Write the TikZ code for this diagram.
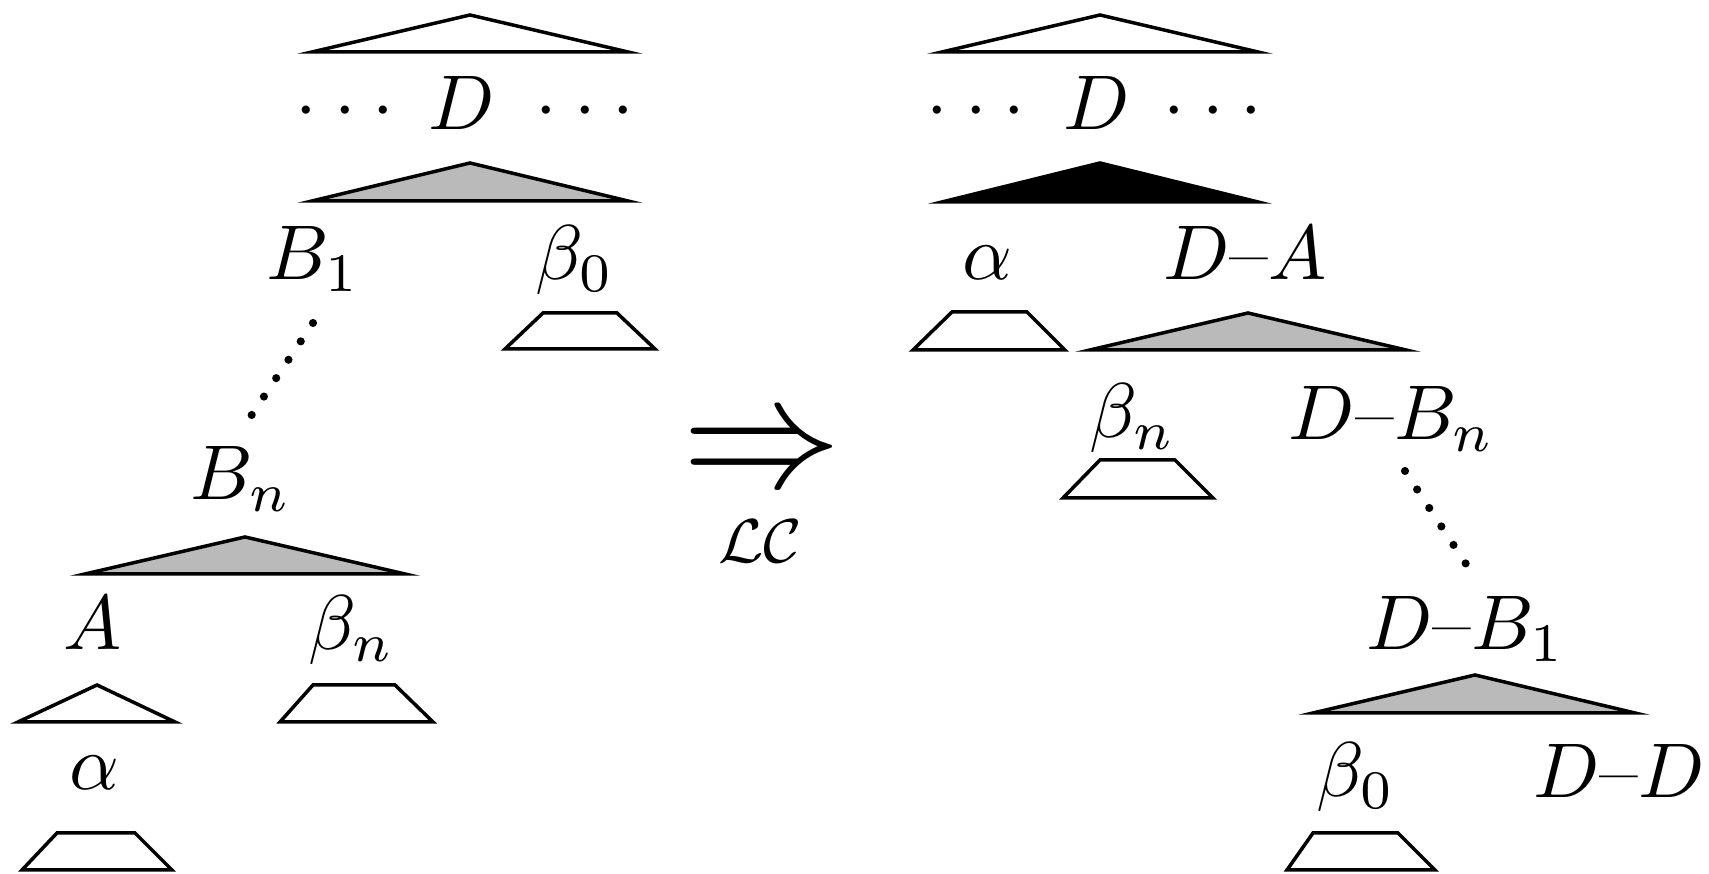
\documentclass[tikz,border=0pt]{standalone}
\usetikzlibrary{calc}
\begin{document}
\begin{tikzpicture}[x=0.1289pt,y=-0.1289pt,
  tri/.style={draw=black, line width=0.45pt, fill=white},
  gtri/.style={tri, fill=black!27},
  btri/.style={tri, fill=black},
  trap/.style={tri},
  lbl/.style={inner sep=0pt, anchor=base},
  dotline/.style={line width=1.05pt, line cap=round, dash pattern=on 0pt off 2.85pt}]
\useasboundingbox (0,0) rectangle (1709,874);

% ---------- left tree ----------
\draw[tri]  (312,52) -- (470,15) -- (628,52) -- cycle;
\node[lbl] (ldA) at (345,130) {${\cdot}\:{\cdot}\:{\cdot}$};
\node[lbl] (DA)  at (462,130) {$D$};
\node[lbl] (rdA) at (585,130) {${\cdot}\:{\cdot}\:{\cdot}$};
\draw[gtri] (312,201) -- (470,163) -- (628,201) -- cycle;

\node[lbl] (B1)  at (313,280) {$B_1$};
\node[lbl] (b0L) at (575,280) {$\beta_0$};
\draw[trap] (505,349) -- (543,313) -- (617,313) -- (655,349) -- cycle;

\coordinate (b1dot) at (313,323);
\coordinate (bndot) at (251,416);
\draw[dotline] (b1dot) -- (bndot);

\node[lbl] (Bn)  at (241,500) {$B_n$};
\draw[gtri] (85,574) -- (245,537) -- (405,574) -- cycle;

\node[lbl] (AL)  at (93,650) {$A$};
\node[lbl] (bnL) at (352,650) {$\beta_n$};
\draw[tri]  (18,722) -- (97,685) -- (175,722) -- cycle;
\draw[trap] (280,722) -- (313,685) -- (395,685) -- (433,722) -- cycle;

\node[lbl] (aL)  at (94,790) {$\alpha$};
\draw[trap] (22,870) -- (57,833) -- (135,833) -- (172,870) -- cycle;

% ---------- arrow ----------
\node[inner sep=0pt] (arr) at (762,457) {\scalebox{2.05}{$\Rightarrow$}};
\node[lbl] (lc) at (760,563) {\fontsize{8}{9}\selectfont$\mathcal{LC}$};

% ---------- right tree ----------
\draw[tri]  (942,52) -- (1100,15) -- (1258,52) -- cycle;
\node[lbl] (ldB) at (976,130) {${\cdot}\:{\cdot}\:{\cdot}$};
\node[lbl] (DB)  at (1097,130) {$D$};
\node[lbl] (rdB) at (1213,130) {${\cdot}\:{\cdot}\:{\cdot}$};
\draw[btri] (942,202) -- (1100,163) -- (1258,202) -- cycle;

\node[lbl] (aR)  at (987,280) {$\alpha$};
\node[lbl] (DmA) at (1245,280) {$D$--$A$};
\draw[trap] (913,350) -- (952,312) -- (1027,312) -- (1065,350) -- cycle;
\draw[gtri] (1090,350) -- (1248,313) -- (1406,350) -- cycle;

\node[lbl] (bnR) at (1133,438) {$\beta_n$};
\node[lbl] (DmBn) at (1392,440) {$D$--$B_n$};
\draw[trap] (1063,498) -- (1100,460) -- (1175,460) -- (1213,498) -- cycle;

\coordinate (dbndot) at (1405,471);
\coordinate (db1dot) at (1466,564);
\draw[dotline] (dbndot) -- (db1dot);

\node[lbl] (DmB1) at (1466,650) {$D$--$B_1$};
\draw[gtri] (1313,713) -- (1475,675) -- (1635,713) -- cycle;

\node[lbl] (b0R) at (1356,797) {$\beta_0$};
\node[lbl] (DmD) at (1619,798) {$D$--$D$};
\draw[trap] (1287,870) -- (1313,833) -- (1398,833) -- (1435,870) -- cycle;
\end{tikzpicture}
\end{document}
